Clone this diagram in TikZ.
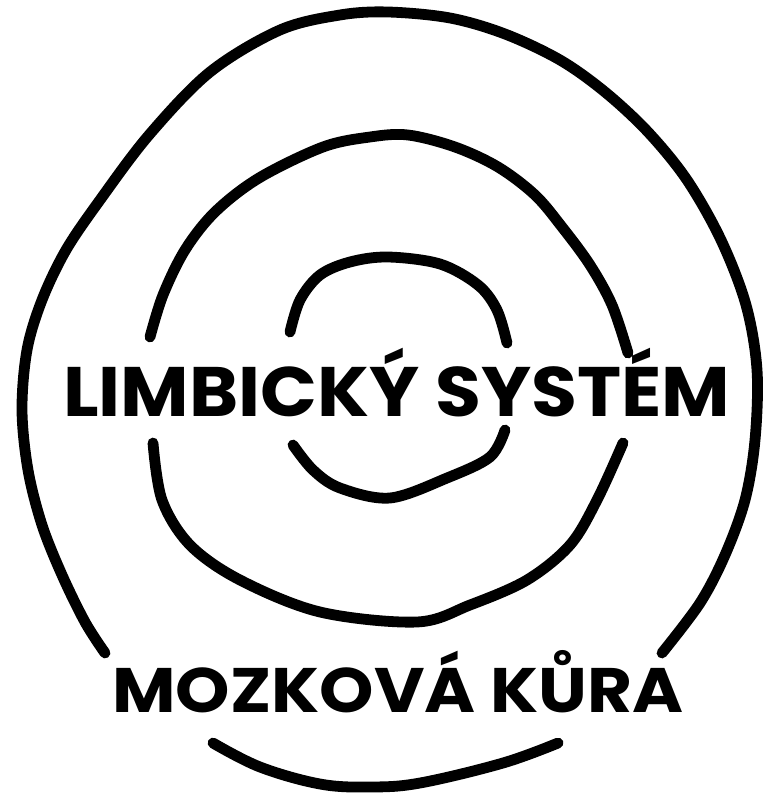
\documentclass[tikz,border=0pt]{standalone}
\usepackage{fontspec}
\setmainfont{Poppins}
\usepackage{graphicx}
\usepackage{tikz}
\usetikzlibrary{positioning}

% stretch a word to a given width, keep its height
\newcommand{\widetext}[2]{\resizebox{#1}{\height}{#2}}

\begin{document}
\begin{tikzpicture}[
    x=0.025cm, y=-0.025cm,
    ring/.style={draw=black, line width=0.27cm, line cap=round, line join=round},
    areaname/.style={inner sep=0pt, anchor=base west, text=black},
  ]
    \useasboundingbox (0,0) rectangle (775,793);

    % outer ring (cortex)
    \draw[ring] plot[smooth, tension=0.55] coordinates {
      (105,653) (85,622) (62,575) (42,525) (28,470) (22,410) (27,350)
      (42,300) (66,250) (100,200) (149,135) (210,72) (280,30) (340,15)
      (388,12) (450,18) (505,34) (560,60) (605,92) (648,132) (687,180)
      (721,240) (746,305) (757,370) (755,440) (745,500) (725,555)
      (700,603) (662,653)};
    \draw[ring] plot[smooth, tension=0.6] coordinates {
      (213,743) (260,767) (320,784) (370,787) (420,783) (503,763) (558,743)};

    % middle ring
    \draw[ring] plot[smooth, tension=0.55] coordinates {
      (150,337) (163,295) (185,250) (215,212) (259,178) (323,147)
      (370,137) (408,135) (455,147) (498,167) (535,195) (562,227)
      (590,265) (612,305) (628,353)};
    \draw[ring] plot[smooth, tension=0.55] coordinates {
      (153,443) (162,500) (190,545) (240,580) (320,612) (417,622)
      (470,605) (527,580) (570,545) (597,500) (623,443)};

    % inner ring
    \draw[ring] plot[smooth, tension=0.55] coordinates {
      (290,332) (300,300) (320,275) (350,262) (388,257) (440,264)
      (478,285) (497,310) (507,343)};
    \draw[ring] plot[smooth, tension=0.55] coordinates {
      (293,445) (313,470) (340,488) (390,498) (447,478) (490,457) (505,430)};

    \node[areaname, font=\fontsize{49.8}{60}\selectfont\bfseries] (limbic) at (63,416)
      {\widetext{16.675cm}{LIMBICKÝ SYSTÉM}};
    \node[areaname, font=\fontsize{44.7}{54}\selectfont\bfseries] (cortex) at (112,712)
      {\widetext{14.275cm}{MOZKOVÁ KŮRA}};
\end{tikzpicture}
\end{document}
